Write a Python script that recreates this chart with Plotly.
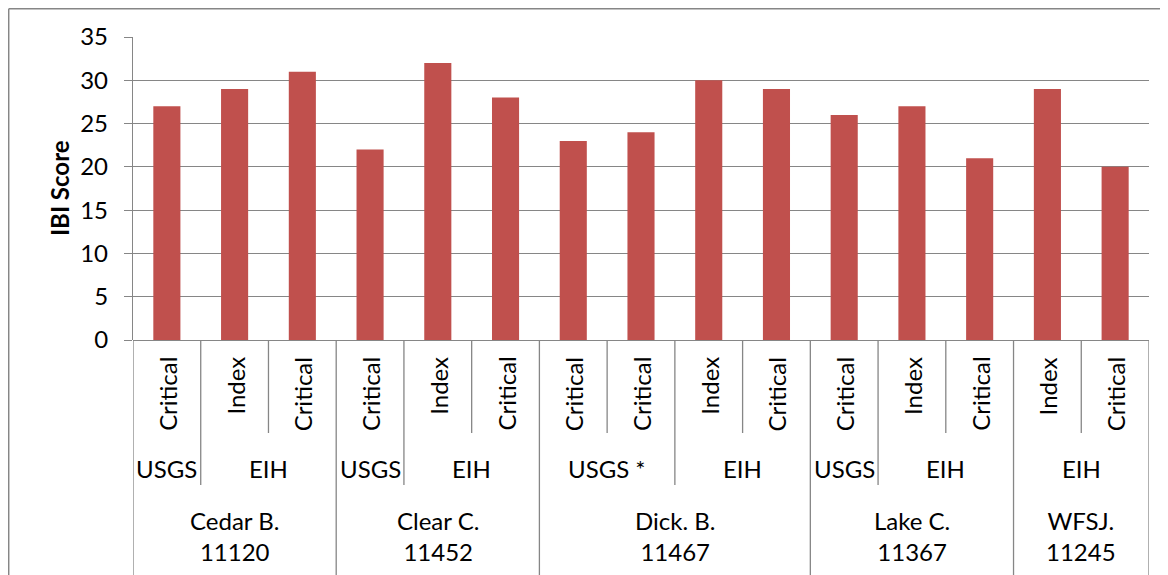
import plotly.graph_objects as go

# ---- data ----
level1 = ["Critical", "Index", "Critical", "Critical", "Index", "Critical",
          "Critical", "Critical", "Index", "Critical", "Critical", "Index",
          "Critical", "Index", "Critical"]
values = [27, 29, 31, 22, 32, 28, 23, 24, 30, 29, 26, 27, 21, 29, 20]
# level-2 groups: (label, first index, last index)
level2 = [("USGS", 0, 0), ("EIH", 1, 2), ("USGS", 3, 3), ("EIH", 4, 5),
          ("USGS *", 6, 7), ("EIH", 8, 9), ("USGS", 10, 10), ("EIH", 11, 12),
          ("EIH", 13, 14)]
# level-3 groups (sites)
level3 = [("Cedar B.<br>11120", 0, 2), ("Clear C.<br>11452", 3, 5),
          ("Dick. B.<br>11467", 6, 9), ("Lake C.<br>11367", 10, 12),
          ("WFSJ.<br>11245", 13, 14)]
y_ticks = [0, 5, 10, 15, 20, 25, 30, 35]

# ---- layout geometry (page pixels; page body has an 8px margin) ----
OFF = 8
W, H = 1168 - OFF, 575 - OFF
L, R, T, B = 133, 1149, 37, 340          # plot area in page pixels
PW, PH = R - L, B - T


def py(p):
    return (B - p) / PH


def px(p):
    return (p - L) / PW


FONT = "Lato"
FS = 24
GRID = "#868686"
n = len(values)
xs = list(range(n))

fig = go.Figure()
fig.add_trace(go.Bar(x=xs, y=values, width=0.4, marker_color="#C0504D",
                     marker_line_width=0))

shapes = []
annotations = []

# separators below axis
l1_bottom, l2_bottom, l3_bottom = py(433), py(485), py(580)
site_bounds = set()
for _, a, b in level3:
    site_bounds.add(a - 0.5)
    site_bounds.add(b + 0.5)
l2_bounds = set()
for _, a, b in level2:
    l2_bounds.add(a - 0.5)
    l2_bounds.add(b + 0.5)
for k in range(n + 1):
    xb = k - 0.5
    if xb in site_bounds:
        yb = l3_bottom
    elif xb in l2_bounds:
        yb = l2_bottom
    else:
        yb = l1_bottom
    shapes.append(dict(type="line", xref="x", yref="paper", x0=xb, x1=xb,
                       y0=0, y1=yb, line=dict(color=GRID, width=1.3),
                       layer="above"))

# level-1 labels
for i, lab in enumerate(level1):
    annotations.append(dict(x=i, y=py(355), xref="x", yref="paper", text=lab,
                            textangle=-90, showarrow=False, xanchor="center",
                            yanchor="top", font=dict(family=FONT, size=FS,
                                                     color="black")))
# level-2 labels
for lab, a, b in level2:
    annotations.append(dict(x=(a + b) / 2, y=py(468), xref="x", yref="paper",
                            text=lab, showarrow=False, xanchor="center",
                            yanchor="middle",
                            font=dict(family=FONT, size=FS, color="black")))
# level-3 labels
for lab, a, b in level3:
    annotations.append(dict(x=(a + b) / 2, y=py(536), xref="x", yref="paper",
                            text=lab, showarrow=False, xanchor="center",
                            yanchor="middle",
                            font=dict(family=FONT, size=FS, color="black")))

# y-axis title
annotations.append(dict(x=px(59), y=py(188), xref="paper", yref="paper",
                        text="<b>IBI Score</b>", textangle=-90, showarrow=False,
                        xanchor="center", yanchor="middle",
                        font=dict(family=FONT, size=FS, color="black")))

# outer chart border (top and left visible)
shapes.append(dict(type="line", xref="paper", yref="paper", x0=px(8.7),
                   x1=px(1175), y0=py(8.7), y1=py(8.7),
                   line=dict(color=GRID, width=1.5)))
shapes.append(dict(type="line", xref="paper", yref="paper", x0=px(8.7),
                   x1=px(8.7), y0=py(8.7), y1=py(590),
                   line=dict(color=GRID, width=1.5)))

fig.update_layout(
    width=W, height=H,
    margin=dict(l=L - OFF, r=(W + OFF) - R, t=T - OFF, b=(H + OFF) - B),
    plot_bgcolor="white", paper_bgcolor="white",
    showlegend=False,
    bargap=0.6,
    shapes=shapes,
    annotations=annotations,
    font=dict(family=FONT, size=FS, color="black"),
    xaxis=dict(range=[-0.5, n - 0.5], showticklabels=False, showgrid=False,
               zeroline=False, showline=False, ticks=""),
    yaxis=dict(range=[0, 35], tickvals=y_ticks, showgrid=True,
               gridcolor=GRID, gridwidth=1.3, zeroline=True,
               zerolinecolor=GRID, zerolinewidth=1.3,
               showline=True, linecolor=GRID, linewidth=1.3,
               ticks="outside", ticklen=8, tickcolor=GRID, tickwidth=1.3,
               ticklabelstandoff=11,
               tickfont=dict(family=FONT, size=FS, color="black")),
)

fig.write_html("out.html")
